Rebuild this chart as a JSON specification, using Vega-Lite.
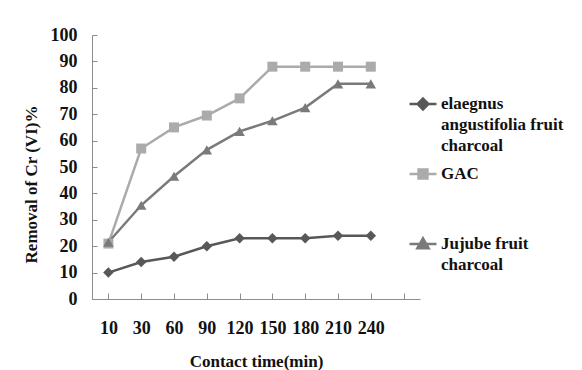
{
  "$schema": "https://vega.github.io/schema/vega-lite/v6.json",
  "width": 328,
  "height": 264,
  "autosize": {"type": "none"},
  "padding": {"left": 92, "top": 35, "right": 162, "bottom": 71},
  "background": "white",
  "config": {
    "view": {"stroke": null},
    "font": "Liberation Serif",
    "axis": {
      "grid": false,
      "domainColor": "#8c8c8c",
      "tickColor": "#8c8c8c",
      "labelFont": "Liberation Serif",
      "labelFontWeight": "bold",
      "labelFontSize": 18,
      "labelColor": "#111",
      "titleFont": "Liberation Serif",
      "titleFontWeight": "bold",
      "titleFontSize": 17,
      "titleColor": "#111"
    }
  },
  "data": {
    "values": [
      {"time": 10, "series": "elaegnus angustifolia fruit charcoal", "removal": 10},
      {"time": 30, "series": "elaegnus angustifolia fruit charcoal", "removal": 14},
      {"time": 60, "series": "elaegnus angustifolia fruit charcoal", "removal": 16},
      {"time": 90, "series": "elaegnus angustifolia fruit charcoal", "removal": 20},
      {"time": 120, "series": "elaegnus angustifolia fruit charcoal", "removal": 23},
      {"time": 150, "series": "elaegnus angustifolia fruit charcoal", "removal": 23},
      {"time": 180, "series": "elaegnus angustifolia fruit charcoal", "removal": 23},
      {"time": 210, "series": "elaegnus angustifolia fruit charcoal", "removal": 24},
      {"time": 240, "series": "elaegnus angustifolia fruit charcoal", "removal": 24},
      {"time": 10, "series": "GAC", "removal": 21},
      {"time": 30, "series": "GAC", "removal": 57},
      {"time": 60, "series": "GAC", "removal": 65},
      {"time": 90, "series": "GAC", "removal": 69.5},
      {"time": 120, "series": "GAC", "removal": 76},
      {"time": 150, "series": "GAC", "removal": 88},
      {"time": 180, "series": "GAC", "removal": 88},
      {"time": 210, "series": "GAC", "removal": 88},
      {"time": 240, "series": "GAC", "removal": 88},
      {"time": 10, "series": "Jujube fruit charcoal", "removal": 21.5},
      {"time": 30, "series": "Jujube fruit charcoal", "removal": 35.5},
      {"time": 60, "series": "Jujube fruit charcoal", "removal": 46.5},
      {"time": 90, "series": "Jujube fruit charcoal", "removal": 56.5},
      {"time": 120, "series": "Jujube fruit charcoal", "removal": 63.5},
      {"time": 150, "series": "Jujube fruit charcoal", "removal": 67.5},
      {"time": 180, "series": "Jujube fruit charcoal", "removal": 72.5},
      {"time": 210, "series": "Jujube fruit charcoal", "removal": 81.5},
      {"time": 240, "series": "Jujube fruit charcoal", "removal": 81.5}
    ]
  },
  "encoding": {
    "x": {
      "field": "time",
      "type": "ordinal",
      "scale": {"type": "point", "padding": 0.5, "domain": [10, 30, 60, 90, 120, 150, 180, 210, 240, 270]},
      "axis": {
        "title": "Contact time(min)",
        "labelAngle": 0,
        "tickSize": -6,
        "labelPadding": 26,
        "labelExpr": "datum.value == 270 ? '' : datum.label",
        "titleY": 54
      }
    },
    "y": {
      "field": "removal",
      "type": "quantitative",
      "scale": {"domain": [0, 100], "nice": false},
      "axis": {
        "title": "Removal of Cr (VI)%",
        "values": [0, 10, 20, 30, 40, 50, 60, 70, 80, 90, 100],
        "tickSize": -5,
        "labelPadding": 20,
        "titleX": -52,
        "titleY": 149
      }
    }
  },
  "layer": [
    {
      "mark": {"type": "line", "strokeWidth": 2.5},
      "encoding": {
        "color": {
          "field": "series",
          "type": "nominal",
          "scale": {
            "domain": ["elaegnus angustifolia fruit charcoal", "GAC", "Jujube fruit charcoal"],
            "range": ["#585858", "#ababab", "#7a7a7a"]
          },
          "legend": {
            "title": null,
            "orient": "none",
            "legendX": 316,
            "legendY": 54,
            "padding": 0,
            "rowPadding": 5,
            "symbolSize": 729,
            "symbolOffset": 0,
            "labelOffset": 3,
            "labelFont": "Liberation Serif",
            "labelFontWeight": "bold",
            "labelFontSize": 17,
            "labelColor": "#111",
            "labelLimit": 300,
            "labelBaseline": "middle",
            "labelExpr": "datum.value == 'GAC' ? 'GAC~ ~ ' : datum.value == 'Jujube fruit charcoal' ? 'Jujube fruit~charcoal' : 'elaegnus~angustifolia fruit~charcoal'",
            "encode": {
              "symbols": {
                "update": {
                  "shape": {"signal": "datum.value == 'GAC' ? 'M-1,0H1M-0.33,-0.33H0.33V0.33H-0.33Z' : datum.value == 'Jujube fruit charcoal' ? 'M-1,0H1M0,-0.42L0.42,0.32H-0.42Z' : 'M-1,0H1M0,-0.4L0.4,0L0,0.4L-0.4,0Z'"},
                  "fill": {"scale": "color", "field": "value"},
                  "stroke": {"scale": "color", "field": "value"},
                  "strokeWidth": {"value": 2.5},
                  "size": {"value": 729},
                  "opacity": {"value": 1}
                }
              },
              "labels": {
                "update": {
                  "lineBreak": {"value": "~"},
                  "lineHeight": {"value": 21},
                  "font": {"value": "Liberation Serif"},
                  "fontWeight": {"value": "bold"},
                  "fontSize": {"value": 17}
                }
              }
            }
          }
        }
      }
    },
    {
      "transform": [{"filter": "datum.series == 'elaegnus angustifolia fruit charcoal'"}],
      "mark": {"type": "point", "filled": true, "size": 110, "opacity": 1, "shape": "diamond", "color": "#585858"},
      "encoding": {}
    },
    {
      "transform": [{"filter": "datum.series == 'GAC'"}],
      "mark": {"type": "point", "filled": true, "size": 100, "opacity": 1, "shape": "square", "color": "#ababab"},
      "encoding": {}
    },
    {
      "transform": [{"filter": "datum.series == 'Jujube fruit charcoal'"}],
      "mark": {"type": "point", "filled": true, "size": 110, "opacity": 1, "shape": "triangle-up", "color": "#7a7a7a"},
      "encoding": {}
    }
  ]
}
